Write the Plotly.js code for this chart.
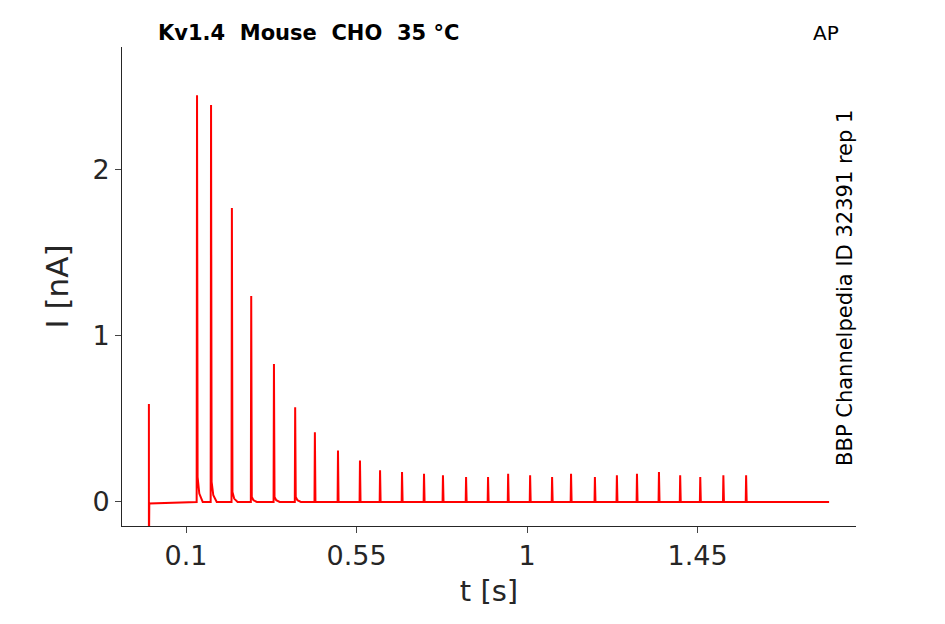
<!DOCTYPE html>
<html>
<head>
<meta charset="utf-8">
<script src="https://cdn.plot.ly/plotly-3.0.1.min.js"></script>
<style>body{margin:0;background:#fff}#plot{width:945px;height:624px}</style>
</head>
<body>
<div id="plot"></div>
<script>
// spike times (s) and peak currents (nA)
var spike_t = [0.129, 0.166, 0.221, 0.272, 0.332, 0.388, 0.440, 0.501, 0.559, 0.612, 0.670, 0.728, 0.778, 0.839, 0.897, 0.950, 1.008, 1.066, 1.116, 1.179, 1.237, 1.290, 1.348, 1.404, 1.457, 1.518, 1.578];
var spike_i = [2.45, 2.39, 1.77, 1.24, 0.83, 0.57, 0.42, 0.31, 0.25, 0.19, 0.18, 0.17, 0.16, 0.15, 0.15, 0.17, 0.16, 0.15, 0.17, 0.15, 0.16, 0.17, 0.18, 0.16, 0.15, 0.16, 0.16];
var tail_i = [0.05, 0.04, 0.02, 0.01, 0.01, 0.01, 0, 0, 0, 0, 0, 0, 0, 0, 0, 0, 0, 0, 0, 0, 0, 0, 0, 0, 0, 0, 0];
var artifact_t = 0.002, artifact_hi = 0.59, artifact_lo = -0.35;
var t_end = 1.797;
var xticks = [0.1, 0.55, 1, 1.45];
var yticks = [0, 1, 2];

var x = [artifact_t, artifact_t, artifact_t + 0.0005, artifact_t + 0.001];
var y = [artifact_hi, artifact_lo, 0, -0.01];
for (var k = 0; k < spike_t.length; k++) {
   x.push(spike_t[k] - 0.001, spike_t[k], spike_t[k] + 0.0015, spike_t[k] + 0.006, spike_t[k] + 0.015);
   y.push(0, spike_i[k], tail_i[k] * 3, tail_i[k], 0);
}
x.push(t_end);
y.push(0);

var trace = {
   x: x, y: y, mode: 'lines', type: 'scatter',
   line: {color: '#ff0000', width: 2},
   hoverinfo: 'x+y'
};

var tickfont = {family: 'DejaVu Sans', size: 27, color: '#262626'};
var layout = {
   width: 945, height: 624,
   margin: {l: 122, r: 89, t: 47, b: 98},
   paper_bgcolor: '#fff', plot_bgcolor: '#fff',
   showlegend: false,
   xaxis: {
      range: [-0.069, 1.868], tickvals: xticks, ticktext: ['0.1', '0.55', '1', '1.45'],
      ticks: 'outside', ticklen: 6, showgrid: false, zeroline: false,
      showline: true, linecolor: '#262626', tickfont: tickfont,
      title: {text: 't [s]', font: {family: 'DejaVu Sans', size: 29, color: '#262626'}, standoff: 10}
   },
   yaxis: {
      range: [-0.145, 2.74], tickvals: yticks,
      ticks: 'outside', ticklen: 6, showgrid: false, zeroline: false,
      showline: true, linecolor: '#262626', tickfont: tickfont,
      title: {text: 'I [nA]', font: {family: 'DejaVu Sans', size: 31, color: '#262626'}, standoff: 14}
   },
   annotations: [
      {text: '<b>Kv1.4  Mouse  CHO  35 °C</b>', xref: 'paper', yref: 'paper', x: 0.046, y: 1.0,
       xanchor: 'left', yanchor: 'bottom', showarrow: false,
       font: {family: 'DejaVu Sans', size: 21, color: '#000'}},
      {text: 'AP', xref: 'paper', yref: 'paper', x: 0.98, y: 1.0,
       xanchor: 'right', yanchor: 'bottom', showarrow: false,
       font: {family: 'DejaVu Sans', size: 20, color: '#000'}},
      {text: 'BBP Channelpedia ID 32391 rep 1', xref: 'paper', yref: 'paper', x: 0.985, y: 0.497,
       xanchor: 'center', yanchor: 'middle', textangle: -90, showarrow: false,
       font: {family: 'DejaVu Sans', size: 21, color: '#000'}}
   ]
};

Plotly.newPlot('plot', [trace], layout, {displayModeBar: false});
</script>
</body>
</html>
